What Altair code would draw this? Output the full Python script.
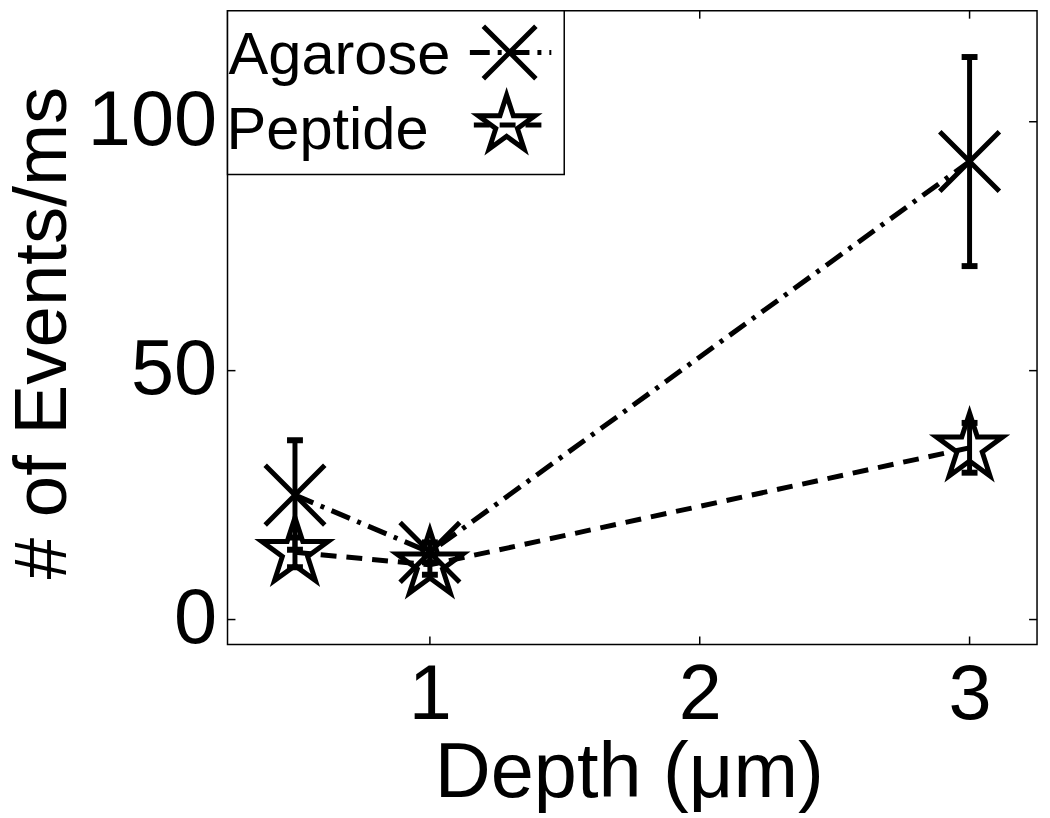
import altair as alt
import pandas as pd

# ---- data ----
depth = [0.5, 1, 3]
agarose = [25, 13.5, 92]
agarose_err = [11, 2, 21]
peptide = [13.5, 11, 34.5]
peptide_err = [3, 2, 5]
x_ticks = [1, 2, 3]
y_ticks = [0, 50, 100]

# ---- layout / style ----
W, H = 815, 638
XDOM = [0.25, 3.25]
YDOM = [-5, 122.3]
FONT = "Liberation Sans"
INK = "black"
X_PATH = "M-1,-1L1,1M-1,1L1,-1"
STAR_PATH = ("M0,-1L0.2245,-0.309L0.951,-0.309L0.3633,0.118L0.588,0.809"
             "L0,0.382L-0.588,0.809L-0.3633,0.118L-0.951,-0.309L-0.2245,-0.309Z")
DASH_AG = [20, 8, 4, 8]
DASH_PE = [16, 10]

ag = pd.DataFrame({"depth": depth, "val": agarose, "err": agarose_err})
pe = pd.DataFrame({"depth": depth, "val": peptide, "err": peptide_err})
for d in (ag, pe):
    d["lo"] = d["val"] - d["err"]
    d["hi"] = d["val"] + d["err"]

xs = alt.Scale(domain=XDOM, nice=False, zero=False)
ys = alt.Scale(domain=YDOM, nice=False, zero=False)

x_axis = alt.Axis(values=x_ticks, format="d", title="Depth (μm)", labelPadding=13,
                  titleX=404, titleY=153, titleBaseline="alphabetic",
                  titleAlign="center")
y_axis = alt.Axis(values=y_ticks, format="d", title="# of Events/ms", labelPadding=11,
                  titleAngle=270, titleX=-163, titleY=324, titleFontSize=75,
                  titleBaseline="alphabetic", titleAlign="center")


def series(df, dash, shape, size):
    base = alt.Chart(df)
    line = base.mark_line(color=INK, strokeWidth=5, strokeDash=dash).encode(
        x=alt.X("depth:Q", scale=xs, axis=x_axis),
        y=alt.Y("val:Q", scale=ys, axis=y_axis),
    )
    bar = base.mark_rule(color=INK, strokeWidth=5, opacity=1).encode(
        x=alt.X("depth:Q", scale=xs), y=alt.Y("lo:Q", scale=ys), y2="hi:Q")
    cap_lo = base.mark_tick(color=INK, orient="horizontal", size=16, thickness=6,
                            opacity=1).encode(
        x=alt.X("depth:Q", scale=xs), y=alt.Y("lo:Q", scale=ys))
    cap_hi = base.mark_tick(color=INK, orient="horizontal", size=16, thickness=6,
                            opacity=1).encode(
        x=alt.X("depth:Q", scale=xs), y=alt.Y("hi:Q", scale=ys))
    pts = base.mark_point(shape=shape, size=size, filled=False, stroke=INK,
                          strokeWidth=5, opacity=1).encode(
        x=alt.X("depth:Q", scale=xs), y=alt.Y("val:Q", scale=ys))
    return [line, bar, cap_lo, cap_hi, pts]


# inward ticks on all four sides (MATLAB box style)
xt = pd.DataFrame({"t": x_ticks})
yt = pd.DataFrame({"t": y_ticks})
TL = 8
ticks = [
    alt.Chart(xt).mark_rule(color=INK, strokeWidth=1.5).encode(
        x=alt.X("t:Q", scale=xs), y=alt.value(H), y2=alt.value(H - TL)),
    alt.Chart(xt).mark_rule(color=INK, strokeWidth=1.5).encode(
        x=alt.X("t:Q", scale=xs), y=alt.value(0), y2=alt.value(TL)),
    alt.Chart(yt).mark_rule(color=INK, strokeWidth=1.5).encode(
        y=alt.Y("t:Q", scale=ys), x=alt.value(0), x2=alt.value(TL)),
    alt.Chart(yt).mark_rule(color=INK, strokeWidth=1.5).encode(
        y=alt.Y("t:Q", scale=ys), x=alt.value(W), x2=alt.value(W - TL)),
]

# legend (MATLAB style: label left, line sample + marker right)
one = pd.DataFrame({"a": [0]})
legend = [
    alt.Chart(one).mark_rect(fill="white", stroke=INK, strokeWidth=1.5).encode(
        x=alt.value(0), x2=alt.value(339), y=alt.value(0), y2=alt.value(165)),
    alt.Chart(one).mark_text(align="left", baseline="alphabetic", font=FONT,
                             fontSize=60, color=INK).encode(
        x=alt.value(1), y=alt.value(64), text=alt.value("Agarose")),
    alt.Chart(one).mark_text(align="left", baseline="alphabetic", font=FONT,
                             fontSize=60, color=INK).encode(
        x=alt.value(-1), y=alt.value(139), text=alt.value("Peptide")),
    alt.Chart(one).mark_rule(color=INK, strokeWidth=5, strokeDash=DASH_AG).encode(
        x=alt.value(244), x2=alt.value(326), y=alt.value(42)),
    alt.Chart(one).mark_rule(color=INK, strokeWidth=5, strokeDash=DASH_PE).encode(
        x=alt.value(248), x2=alt.value(326), y=alt.value(115)),
    alt.Chart(one).mark_point(shape=X_PATH, size=2800, filled=False, stroke=INK,
                              strokeWidth=5, opacity=1).encode(
        x=alt.value(284), y=alt.value(42)),
    alt.Chart(one).mark_point(shape=STAR_PATH, size=3600, filled=False, stroke=INK,
                              strokeWidth=5, opacity=1).encode(
        x=alt.value(281), y=alt.value(115)),
]

layers = (series(ag, DASH_AG, X_PATH, 3600) + series(pe, DASH_PE, STAR_PATH, 4900)
          + ticks + legend)

chart = alt.layer(*layers).properties(
    width=W, height=H,
    autosize=alt.AutoSizeParams(type="none"),
    padding={"left": 221, "top": 0, "right": 5, "bottom": 172},
    background="white",
).configure_view(
    stroke=INK, strokeWidth=1.5
).configure_axis(
    labelFont=FONT, labelFontSize=78, labelColor=INK,
    titleFont=FONT, titleFontSize=78, titleFontWeight="normal", titleColor=INK,
    ticks=False, domain=False, grid=False,
)

chart.save("out.html", embed_options={"renderer": "svg", "actions": False})
